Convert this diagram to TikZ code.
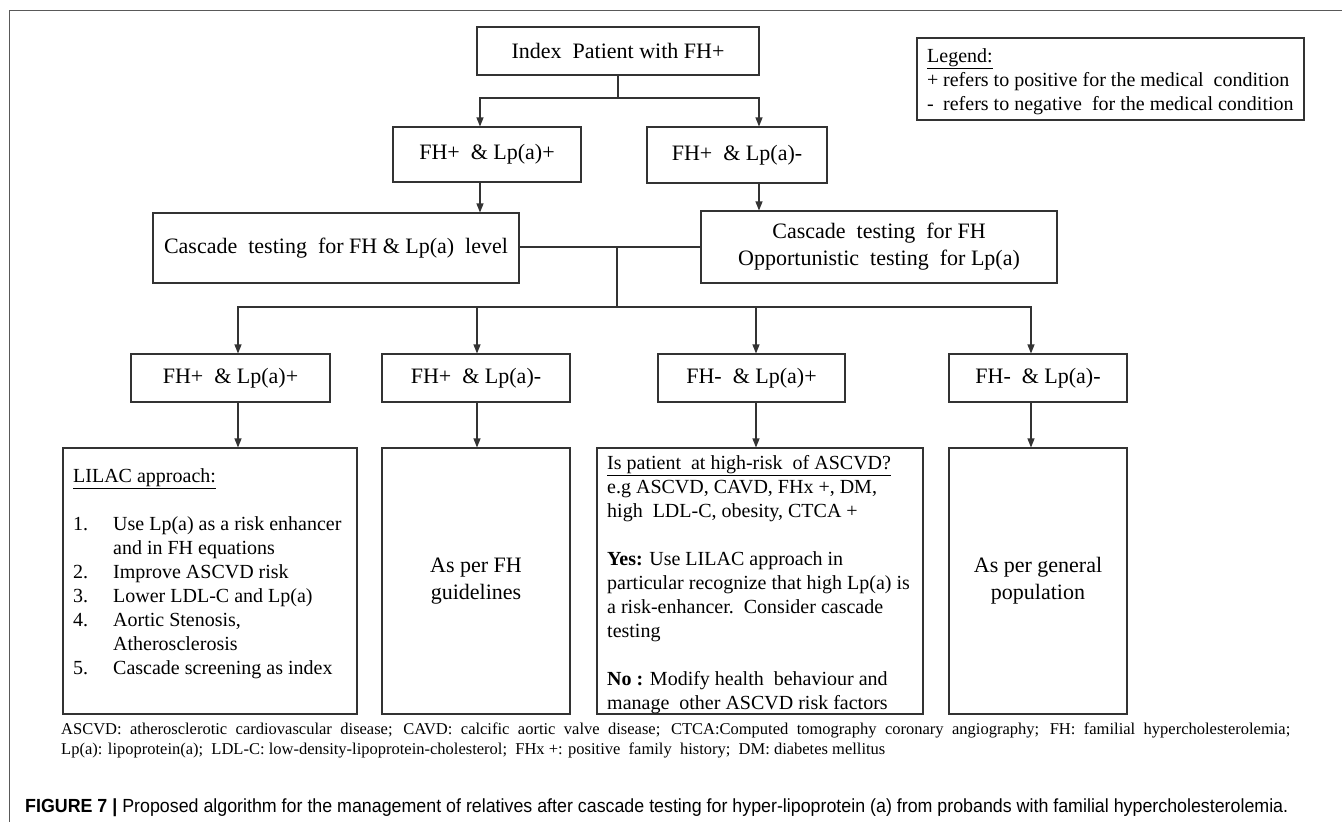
\documentclass[tikz,border=0pt]{standalone}
\usepackage{fontspec}
\setmainfont{Liberation Serif}
\newfontfamily\capfont{Liberation Sans}
\usepackage{graphicx}
\usetikzlibrary{arrows.meta}
\begin{document}
\begin{tikzpicture}[x=1pt,y=-1pt,
  box/.style={draw=black!80, line width=1.1pt, inner sep=0pt, align=center, font=\fontsize{22}{27}\selectfont},
  conn/.style={draw=black!80, line width=1.1pt},
  arr/.style={conn, -{Triangle[length=9pt,width=7pt]}},
  smtxt/.style={font=\fontsize{20}{24}\selectfont, inner sep=0pt, align=left, anchor=north west},
]
\useasboundingbox (0,0) rectangle (1342,822);
% frame
\coordinate (fr1) at (1342,10.7);
\coordinate (fr2) at (9,10.7);
\coordinate (fr3) at (9,822);
\draw[draw=black!65, line width=1pt] (fr1) -- (fr2) -- (fr3);

% top boxes
\node[box, minimum width=282pt, minimum height=48pt] (idx) at (618,51) {Index\ \ Patient with FH+};
\node[box, minimum width=188pt, minimum height=55pt] (a1) at (487,154.5) {FH+\ \ \& Lp(a)+};
\node[box, minimum width=180pt, minimum height=56pt] (a2) at (737,155) {FH+\ \ \& Lp(a)-};
\node[box, minimum width=366pt, minimum height=70pt] (c1) at (336,248) {Cascade\ \ testing\ \ for FH \& Lp(a)\ \ level};
\node[box, minimum width=356pt, minimum height=72pt] (c2) at (879,247) {Cascade\ \ testing\ \ for FH\\Opportunistic\ \ testing\ \ for Lp(a)};

% legend
\node[box, minimum width=387pt, minimum height=82pt] (leg) at (1110.5,79) {};
\node[smtxt] (legt) at (927,48) {\underline{Legend:}\\\makebox[16pt][l]{+}refers to positive for the medical\ \ condition\\\makebox[16pt][l]{-}refers to negative\ \ for the medical condition};

% row 2
\node[box, minimum width=199pt, minimum height=48pt] (r1) at (230.5,378) {FH+\ \ \& Lp(a)+};
\node[box, minimum width=188pt, minimum height=48pt] (r2) at (476,378) {FH+\ \ \& Lp(a)-};
\node[box, minimum width=187pt, minimum height=48pt] (r3) at (751.5,378) {FH-\ \ \& Lp(a)+};
\node[box, minimum width=178pt, minimum height=48pt] (r4) at (1038,378) {FH-\ \ \& Lp(a)-};

% bottom boxes
\node[box, minimum width=294pt, minimum height=266pt] (b1) at (210,581) {};
\node[box, minimum width=188pt, minimum height=266pt] (b2) at (476,581) {As per FH\\guidelines};
\node[box, minimum width=326pt, minimum height=266pt] (b3) at (760,581) {};
\node[box, minimum width=178pt, minimum height=266pt] (b4) at (1038,581) {As per general\\population};

\node[smtxt] (t1) at (73,468) {\underline{LILAC approach:}\\[24pt]
\makebox[40pt][l]{1.}Use Lp(a) as a risk enhancer\\
\hspace*{40pt}and in FH equations\\
\makebox[40pt][l]{2.}Improve ASCVD risk\\
\makebox[40pt][l]{3.}Lower LDL-C and Lp(a)\\
\makebox[40pt][l]{4.}Aortic Stenosis,\\
\hspace*{40pt}Atherosclerosis\\
\makebox[40pt][l]{5.}Cascade screening as index};

\node[smtxt] (t3) at (607,455) {\underline{Is patient\ \ at high-risk\ \ of ASCVD?}\\
e.g ASCVD, CAVD, FHx +, DM,\\
high\ \ LDL-C, obesity, CTCA +\\[24pt]
\textbf{Yes:} Use LILAC approach in\\
particular recognize that high Lp(a) is\\
a risk-enhancer.\ \ Consider cascade\\
testing\\[24pt]
\textbf{No :} Modify health\ \ behaviour and\\
manage\ \ other ASCVD risk factors};

% connectors
\coordinate (j0) at (618,98);
\coordinate (ax1) at (480,0);
\coordinate (ax2) at (759,0);
\draw[conn] (idx.south) -- (j0);
\draw[arr] (j0) -| (ax1 |- a1.north);
\draw[arr] (j0) -| (ax2 |- a2.north);
\draw[arr] (ax1 |- a1.south) -- (ax1 |- c1.north);
\draw[arr] (ax2 |- a2.south) -- (ax2 |- c2.north);
\draw[conn] (c1.east |- c2.west) -- (c2.west);
\coordinate (j1) at (617,247);
\coordinate (j2) at (617,307);
\draw[conn] (j1) -- (j2);
\coordinate (bx1) at (238,0);
\coordinate (bx2) at (477,0);
\coordinate (bx3) at (756,0);
\coordinate (bx4) at (1031,0);
\draw[arr] (j2) -| (bx1 |- r1.north);
\draw[arr] (j2) -| (bx4 |- r4.north);
\draw[arr] (bx2 |- j2) -- (bx2 |- r2.north);
\draw[arr] (bx3 |- j2) -- (bx3 |- r3.north);
\draw[arr] (bx1 |- r1.south) -- (bx1 |- b1.north);
\draw[arr] (bx2 |- r2.south) -- (bx2 |- b2.north);
\draw[arr] (bx3 |- r3.south) -- (bx3 |- b3.north);
\draw[arr] (bx4 |- r4.south) -- (bx4 |- b4.north);

% footnote
\node[anchor=north west, inner sep=0pt] (fn) at (61,723) {\parbox{1229pt}{\fontsize{16.5}{20}\selectfont ASCVD: atherosclerotic cardiovascular disease; CAVD: calcific aortic valve disease; CTCA:Computed tomography coronary angiography; FH: familial hypercholesterolemia;\linebreak
Lp(a): lipoprotein(a);\ \ LDL-C: low-density-lipoprotein-cholesterol;\ \ FHx +: positive\ \ family\ \ history;\ \ DM: diabetes mellitus}};

% caption
\node[anchor=base west, inner sep=0pt] (cap) at (25,812) {\resizebox{1263pt}{\height}{\capfont\fontsize{19}{22}\selectfont\textbf{FIGURE 7 |} Proposed algorithm for the management of relatives after cascade testing for hyper-lipoprotein (a) from probands with familial hypercholesterolemia.}};
\end{tikzpicture}
\end{document}
